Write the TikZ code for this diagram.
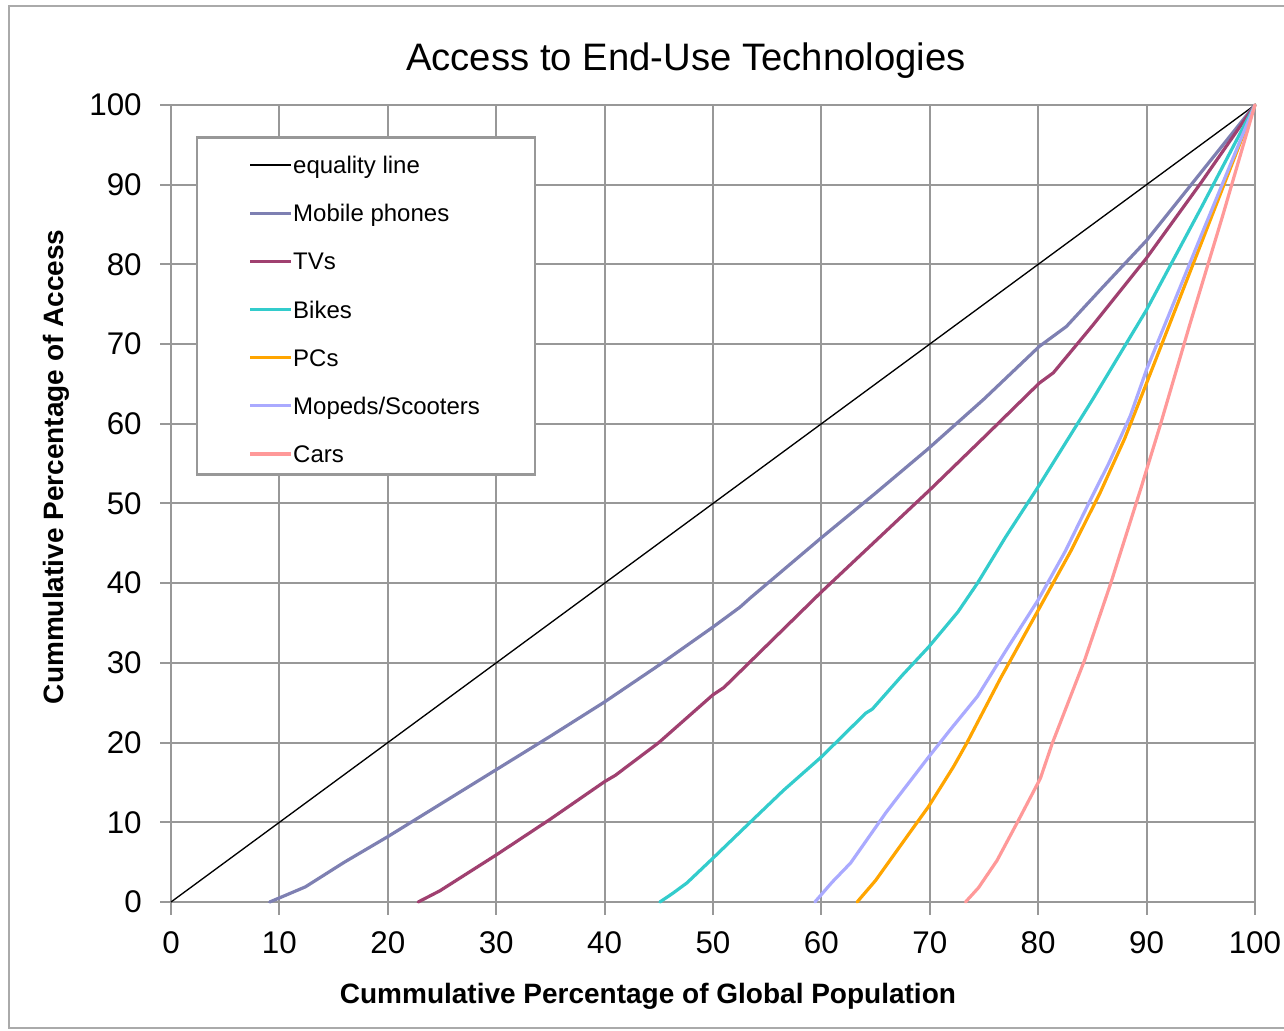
\documentclass[tikz,border=0pt]{standalone}
\usepackage{fontspec}
\setmainfont{Liberation Sans}

\definecolor{gridgray}{RGB}{152,152,152}
\definecolor{framegray}{RGB}{170,170,170}
\definecolor{mobile}{RGB}{126,128,178}
\definecolor{tvs}{RGB}{160,64,112}
\definecolor{bikes}{RGB}{51,204,204}
\definecolor{pcs}{RGB}{255,165,0}
\definecolor{mopeds}{RGB}{170,170,255}
\definecolor{cars}{RGB}{255,153,153}

\begin{document}
\begin{tikzpicture}[x=8.13pt,y=5.978pt,
  gridline/.style={draw=gridgray,line width=1.5pt},
  curve/.style={line width=2.4pt,line join=round,line cap=round},
  ticklabel/.style={inner sep=0pt,font=\fontsize{23.5}{23.5}\selectfont},
  axislabel/.style={inner sep=0pt,font=\fontsize{21}{21}\selectfont\bfseries},
  legendtext/.style={inner sep=0pt,anchor=base west,font=\fontsize{18}{18}\selectfont}]
\useasboundingbox (-15.775,-16.06) rectangle (102.68,113.17);
\draw[framegray,line width=1.5pt] (103,112.4) -- (-14.94,112.4) -- (-14.94,-15.81) -- (103,-15.81);

% grid, ticks and tick labels
\foreach \v in {0,10,...,100} {
  \draw[gridline] (\v,-1.6) -- (\v,100);
  \draw[gridline] (-1,\v) -- (100,\v);
  \node[ticklabel] (xt\v) at (\v,-5.15) {\v};
  \node[ticklabel,anchor=east] (yt\v) at (-2.68,\v) {\v};
}

\node[font=\fontsize{28.7}{28.7}\selectfont] (title) at (47.5,105.6) {Access to End-Use Technologies};
\node[axislabel] (xlab) at (44,-11.8) {Cummulative Percentage of Global Population};
\node[axislabel,rotate=90] (ylab) at (-10.55,54.6) {Cummulative Percentage of Access};

% the curves
\draw[black,line width=1pt] (0,0) -- (100,100);
\draw[curve,mobile] plot coordinates {(9.1,0) (10.5,0.8) (12.4,1.9) (16,5) (20,8.2) (25,12.4) (30,16.6) (35,20.8) (40,25.1) (45,29.7) (50,34.5) (52.5,37) (53.4,38.1) (60,45.7) (65,51.3) (69.8,56.8) (75,63.1) (80.1,69.7) (82.6,72.2) (86,77.2) (90,83) (95,91.5) (100,100)};
\draw[curve,tvs] plot coordinates {(22.8,0) (24.8,1.4) (30,5.9) (35,10.4) (40,15.1) (41,15.9) (45,20) (50,26) (51,26.9) (53.4,30.1) (60,38.9) (65,45.3) (70,51.7) (75,58.3) (80.1,65.1) (81.4,66.4) (85,72.3) (90,80.8) (95,90.2) (100,100)};
\draw[curve,bikes] plot coordinates {(45.1,0) (46.3,1.1) (47.6,2.4) (50,5.5) (53.2,9.7) (56.5,14) (60,18.2) (64.1,23.7) (64.7,24.2) (67.5,28.5) (69.9,32) (72.6,36.4) (74.4,40) (77,45.8) (80.1,52.3) (85,63) (90,74.3) (95,87) (100,100)};
\draw[curve,pcs] plot coordinates {(63.3,0) (63.8,0.8) (65,2.7) (68.1,8.6) (69.9,12) (72.2,17) (73.4,19.9) (76.5,28) (80,36.6) (83,44) (85.7,51.3) (88,58.2) (90,65.1) (95,82.5) (100,100)};
\draw[curve,mopeds] plot coordinates {(59.4,0) (61,2.5) (62.7,4.9) (66,11.3) (69.9,18.2) (72,21.8) (74.4,25.8) (77,31.5) (80,37.9) (82.5,44) (84.8,50.4) (86.5,55) (88.5,61) (90,66.8) (95,83.5) (100,100)};
\draw[curve,cars] plot coordinates {(73.3,0) (74.5,1.8) (76.2,5.2) (78.2,10.3) (80.2,15.5) (81.3,19.9) (84.3,30.4) (86.7,40) (89.5,52) (91.3,60) (94,72.5) (97,86) (100,100)};

% legend
\draw[gridgray,line width=2.2pt,fill=white] (2.4,53.58) rectangle (33.58,95.86);
\foreach \c/\w/\t [count=\i] in {black/1pt/{equality line}, mobile/2.4pt/{Mobile phones}, tvs/2.4pt/{TVs}, bikes/2.4pt/{Bikes}, pcs/2.4pt/{PCs}, mopeds/2.4pt/{Mopeds/Scooters}, cars/2.4pt/{Cars}} {
  \coordinate (lk\i) at (7.29,98.51-6.044*\i);
  \draw[\c,line width=\w] (lk\i) -- ++(3.78,0);
  \node[legendtext] (leg\i) at ([shift={(3.96,-1.08)}]lk\i) {\t};
}
\end{tikzpicture}
\end{document}
